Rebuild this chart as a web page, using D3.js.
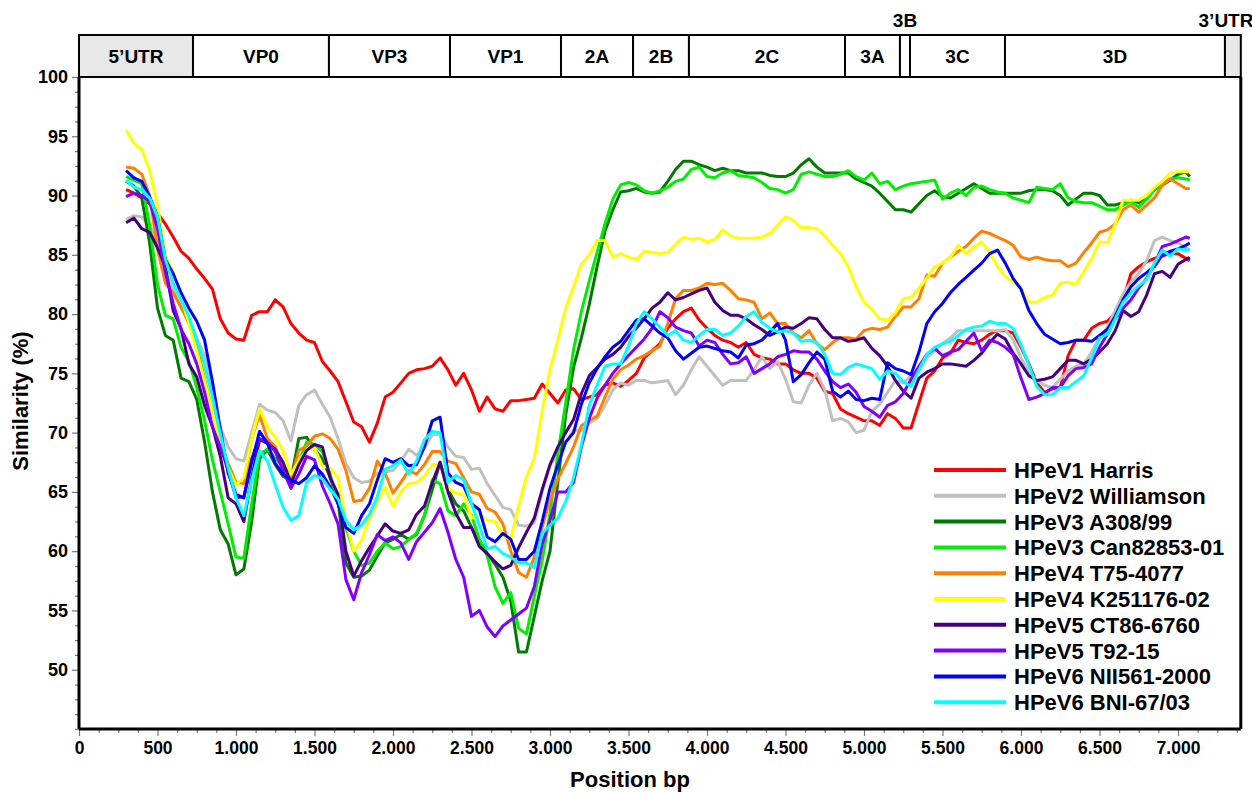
<!DOCTYPE html>
<html>
<head>
<meta charset="utf-8">
<script src="https://cdn.jsdelivr.net/npm/d3@7/dist/d3.min.js"></script>
<style>
body { margin: 0; background: #fff; }
svg text { font-family: "Liberation Sans", Arial, sans-serif; font-weight: bold; }
</style>
</head>
<body>
<svg id="chart" width="1252" height="793"></svg>
<script>
// window positions (bp) of the similarity scan, one row per 500 bp
var positions = [300,350,400,450,500,550,600,650,700,750,
  800,850,900,950,1000,1050,1100,1150,1200,1250,
  1300,1350,1400,1450,1500,1550,1600,1650,1700,1750,
  1800,1850,1900,1950,2000,2050,2100,2150,2200,2250,
  2300,2350,2400,2450,2500,2550,2600,2650,2700,2750,
  2800,2850,2900,2950,3000,3050,3100,3150,3200,3250,
  3300,3350,3400,3450,3500,3550,3600,3650,3700,3750,
  3800,3850,3900,3950,4000,4050,4100,4150,4200,4250,
  4300,4350,4400,4450,4500,4550,4600,4650,4700,4750,
  4800,4850,4900,4950,5000,5050,5100,5150,5200,5250,
  5300,5350,5400,5450,5500,5550,5600,5650,5700,5750,
  5800,5850,5900,5950,6000,6050,6100,6150,6200,6250,
  6300,6350,6400,6450,6500,6550,6600,6650,6700,6750,
  6800,6850,6900,6950,7000,7050,7075]

var seriesNames = ["HPeV1 Harris","HPeV2 Williamson","HPeV3 A308/99","HPeV3 Can82853-01","HPeV4 T75-4077",
  "HPeV4 K251176-02","HPeV5 CT86-6760","HPeV5 T92-15","HPeV6 NII561-2000","HPeV6 BNI-67/03"]
var seriesColors = ["#ff0000","#c0c0c0","#007a00","#00ee00","#ff8000","#ffff00","#46007f","#8000ff","#0000ff","#00ffff"]

var harris = [90.5,90.2,89.8,89.3,88.5,87.6,86.5,85.3,84.7,83.8,
  83.0,82.1,79.6,78.4,77.9,77.8,79.9,80.2,80.2,81.2,
  80.6,79.2,78.4,77.8,77.6,76.0,75.2,74.3,72.6,70.9,
  70.5,69.2,70.8,73.0,73.4,74.2,75.0,75.3,75.4,75.6,
  76.3,75.3,74.0,75.0,73.6,71.8,73.0,72.0,71.8,72.7,
  72.7,72.8,72.9,74.1,73.3,72.5,73.6,73.7,72.8,73.0,
  73.2,74.0,74.2,73.9,74.4,75.0,76.3,76.9,77.5,78.8,
  79.6,80.2,80.5,79.5,78.8,78.2,77.8,77.6,77.2,77.6,
  76.6,76.3,76.2,75.8,75.8,75.3,75.0,75.0,74.6,73.5,
  73.3,72.0,71.6,71.3,71.0,71.0,70.6,71.6,71.2,70.4,
  70.4,72.5,74.6,75.2,76.3,76.7,77.8,77.6,77.5,77.8,
  78.3,78.6,78.6,78.4,77.2,75.8,74.2,73.4,73.7,73.8,
  76.5,77.8,77.8,78.8,79.2,79.4,80.0,81.2,83.4,84.0,
  84.4,84.7,84.9,85.1,85.1,84.7,84.5]
var williamson = [88.0,88.3,88.2,87.5,86.0,83.5,82.0,80.5,79.5,78.0,
  76.5,73.5,70.5,68.8,67.8,67.6,70.0,72.4,71.9,71.7,
  71.0,69.3,72.3,73.2,73.6,72.4,71.3,69.5,67.4,66.2,
  65.8,65.9,66.6,66.7,66.8,67.6,68.6,68.1,68.7,69.8,
  69.9,68.8,68.0,67.9,66.9,67.0,65.7,64.7,63.7,63.5,
  62.2,62.1,62.4,65.0,67.2,68.3,69.2,70.2,70.2,70.8,
  71.2,72.3,73.6,74.2,74.0,74.4,74.4,74.2,74.3,74.4,
  73.2,74.0,75.3,76.4,75.6,74.8,74.0,74.4,74.4,74.4,
  75.3,76.4,75.4,76.0,74.5,72.6,72.5,74.0,75.0,73.6,
  71.0,71.2,70.9,70.0,70.2,71.8,72.4,73.4,74.4,74.2,
  74.8,75.2,76.3,76.9,77.5,78.0,78.6,78.6,78.6,78.6,
  78.6,78.6,78.7,77.8,76.3,75.1,74.4,74.0,73.8,74.5,
  75.2,75.6,75.8,76.8,78.0,78.9,80.3,81.7,82.7,83.4,
  84.5,86.2,86.5,86.2,86.0,85.6,85.4]
var a308 = [91.2,90.8,89.8,86.0,80.5,78.2,77.8,74.6,74.3,72.8,
  69.2,65.0,61.8,60.6,58.0,58.5,62.5,67.8,68.6,67.3,
  66.3,66.0,69.5,69.6,68.6,67.8,66.2,64.2,59.0,57.8,
  57.9,58.4,59.6,60.7,61.0,61.4,61.0,61.4,63.0,65.2,
  67.5,65.2,64.0,63.4,62.0,60.9,59.8,58.9,57.8,55.8,
  51.5,51.5,54.5,57.5,60.0,65.8,71.5,75.5,78.0,80.8,
  84.0,87.0,88.8,90.3,90.4,90.6,90.3,90.2,90.3,91.2,
  92.2,92.9,92.9,92.6,92.4,92.1,92.3,92.1,92.1,91.9,
  91.9,91.9,91.7,91.6,91.6,91.9,92.6,93.1,92.4,91.9,
  91.9,91.9,91.9,91.4,91.1,90.8,90.2,89.5,88.8,88.8,
  88.6,89.3,90.0,90.4,89.9,89.8,90.2,90.6,91.0,90.6,
  90.2,90.2,90.2,90.2,90.2,90.4,90.5,90.5,90.4,90.0,
  89.2,89.7,90.2,90.2,90.0,89.2,89.2,89.4,89.6,89.4,
  89.7,90.5,90.9,91.3,91.8,92.0,91.6]
var can82853 = [91.6,91.3,91.0,87.5,82.5,79.9,79.6,77.2,76.0,73.8,
  71.0,67.7,65.0,62.3,59.5,59.4,64.0,68.2,68.6,67.8,
  67.2,66.5,67.5,69.2,69.0,68.4,66.5,64.0,62.0,60.0,
  58.8,59.0,60.0,60.7,60.2,60.4,61.0,61.5,63.0,66.0,
  65.7,63.4,63.0,64.0,63.0,61.0,59.6,57.0,55.6,56.5,
  53.5,53.0,56.2,59.2,63.2,68.2,72.5,77.0,80.2,82.8,
  85.2,87.6,89.7,90.9,91.1,90.9,90.4,90.2,90.4,90.7,
  91.2,91.4,92.2,92.4,91.6,91.5,91.9,92.1,91.7,91.6,
  91.5,91.1,90.6,90.5,90.2,90.5,91.8,92.0,91.8,91.6,
  91.6,91.8,92.1,91.6,91.3,91.9,91.0,91.2,90.5,90.8,
  91.0,91.1,91.2,91.3,89.7,90.2,90.5,90.0,90.7,90.8,
  90.5,90.3,90.2,89.8,89.6,89.4,90.7,90.6,90.5,91.0,
  89.8,89.5,89.4,89.4,89.1,88.8,88.8,89.2,89.5,89.0,
  89.7,90.5,91.0,91.4,91.5,91.4,91.3]
var t75 = [92.4,92.3,91.8,90.0,85.5,82.6,81.8,80.6,79.2,77.5,
  74.5,71.8,69.3,67.4,65.8,65.7,69.5,71.5,69.5,68.8,
  67.0,66.0,68.5,68.9,69.7,69.9,69.5,68.6,66.8,64.2,
  64.3,65.3,67.6,66.6,64.9,65.8,66.8,66.5,67.3,68.4,
  68.4,67.6,67.4,66.2,65.0,64.8,63.6,63.3,62.3,60.0,
  58.2,57.8,59.5,62.0,64.3,66.1,67.4,68.8,70.6,71.0,
  71.4,73.0,74.5,75.3,75.7,76.2,76.5,76.9,77.3,79.2,
  81.3,82.0,82.0,82.2,82.6,82.5,82.6,82.0,81.3,81.2,
  81.0,79.6,80.1,79.2,79.2,78.4,78.0,78.6,77.5,77.0,
  77.6,78.0,78.0,77.9,78.6,78.8,78.7,78.9,79.8,80.6,
  80.6,81.3,83.3,83.2,84.3,84.8,85.3,85.7,86.4,87.0,
  86.8,86.5,86.2,85.8,84.8,84.6,84.8,84.6,84.5,84.5,
  84.0,84.3,85.2,86.0,86.9,87.1,87.6,88.8,89.2,88.6,
  89.2,89.8,90.9,91.4,91.0,90.6,90.6]
var k251176 = [95.5,94.4,93.9,92.1,89.2,84.9,83.6,81.5,79.2,76.9,
  74.3,71.8,69.0,67.0,65.6,66.2,69.5,72.0,70.5,69.6,
  68.5,66.5,67.6,68.5,68.7,67.2,67.0,66.2,62.5,60.0,
  60.9,62.8,64.2,65.4,63.8,65.0,65.7,65.8,66.3,67.3,
  67.3,65.3,64.9,64.8,62.8,63.0,62.6,62.5,61.3,61.0,
  63.8,66.3,67.8,71.8,75.3,77.8,80.5,82.3,84.2,85.0,
  86.2,86.2,84.8,85.1,84.8,84.6,85.3,85.2,85.1,85.2,
  85.9,86.5,86.3,86.4,86.1,86.3,87.1,86.6,86.4,86.4,
  86.4,86.5,86.8,87.5,88.2,87.9,87.3,87.3,87.2,86.6,
  85.8,85.1,84.0,82.3,81.0,80.4,79.6,79.5,80.1,81.3,
  81.4,82.2,83.0,84.0,84.3,84.8,85.8,85.1,85.6,86.1,
  85.2,84.0,83.2,82.7,82.2,81.0,81.0,81.4,81.6,82.6,
  82.7,82.5,83.6,84.7,86.1,86.0,87.6,89.6,89.6,89.6,
  90.0,90.7,91.2,91.9,92.0,92.0,92.0]
var ct86 = [87.7,88.1,87.2,86.9,85.6,84.0,80.3,78.8,75.8,74.7,
  72.3,70.5,68.0,64.5,64.0,62.5,66.2,69.4,69.1,68.6,
  67.5,65.7,67.3,68.5,69.0,68.8,66.2,64.8,60.0,57.9,
  59.2,60.3,61.3,62.3,61.7,61.5,61.8,63.1,63.8,65.8,
  67.5,65.0,63.2,62.0,62.0,60.4,59.8,59.1,58.5,58.8,
  60.3,61.6,62.8,65.2,67.3,68.8,70.0,71.1,73.3,74.8,
  75.5,76.2,76.6,77.2,78.1,78.8,79.6,80.5,81.0,81.8,
  81.2,81.4,81.7,82.0,82.2,81.0,80.3,79.9,79.9,79.6,
  79.1,78.7,78.2,78.5,78.9,78.8,79.2,79.7,79.6,78.7,
  78.0,78.0,77.7,77.8,78.0,77.1,76.5,75.6,74.4,73.5,
  72.9,74.6,75.1,75.4,75.8,75.8,75.7,75.6,76.1,76.7,
  77.6,78.3,77.9,76.7,75.8,74.8,74.4,74.5,74.7,75.4,
  76.1,76.1,75.8,76.2,76.8,77.5,78.6,80.3,79.8,80.2,
  81.6,83.4,83.6,83.1,84.2,84.6,84.8]
var t92 = [89.9,90.2,90.0,89.5,87.2,83.5,80.9,78.7,77.5,75.8,
  73.4,70.5,68.8,66.8,64.5,64.6,67.8,69.5,69.2,68.4,
  66.8,65.3,66.5,68.0,67.7,65.5,64.0,62.3,57.6,55.9,
  58.2,59.7,61.4,60.9,61.2,60.7,59.3,60.8,61.6,62.4,
  63.6,61.6,59.3,57.8,54.5,55.0,53.6,52.8,53.7,54.2,
  54.7,55.2,57.0,60.6,62.6,65.0,65.0,65.8,68.8,71.2,
  72.9,74.0,75.0,75.8,76.5,77.2,77.9,78.8,80.2,79.7,
  78.9,78.6,78.4,77.3,77.8,77.6,76.6,75.8,75.9,76.4,
  75.0,75.4,75.8,76.4,76.6,76.9,76.8,76.8,76.2,75.2,
  74.3,73.8,74.1,73.4,72.2,71.8,71.3,72.3,72.6,73.3,
  74.5,75.6,76.6,77.1,76.5,76.8,77.0,77.7,78.4,76.9,
  77.8,77.6,77.2,76.6,74.6,72.8,73.0,73.3,73.8,73.8,
  74.8,75.4,75.5,75.8,77.2,78.3,79.6,80.5,81.2,82.2,
  83.0,84.2,85.7,85.9,86.2,86.5,86.4]
var nii561 = [92.1,91.5,91.2,89.9,88.2,84.6,83.4,81.8,80.5,79.4,
  77.8,74.3,70.3,66.6,64.8,64.5,67.5,70.1,69.1,67.4,
  66.5,66.0,65.7,66.2,67.2,66.5,65.4,64.0,62.0,61.5,
  63.0,64.0,66.0,67.8,67.5,67.8,67.2,67.3,68.8,71.0,
  71.3,66.6,65.8,65.5,64.0,63.5,61.2,60.8,61.5,61.0,
  59.3,59.3,60.0,62.5,65.3,67.3,69.2,70.0,72.4,74.2,
  75.4,76.4,77.2,77.7,78.6,79.5,79.6,79.0,78.4,78.0,
  76.9,76.2,76.7,77.2,77.3,77.1,76.9,76.8,76.3,77.4,
  77.5,77.8,78.5,79.2,77.8,74.3,74.9,75.9,76.8,76.2,
  73.5,73.0,73.5,72.8,72.7,72.9,72.8,75.9,75.4,75.2,
  74.9,76.8,79.2,80.2,80.9,81.8,82.5,83.1,83.7,84.3,
  85.1,85.4,84.3,83.0,82.1,80.3,79.2,78.3,77.9,77.5,
  77.6,77.8,77.8,77.7,78.2,78.7,79.8,81.2,82.3,83.0,
  83.5,84.0,85.0,85.3,85.5,85.8,86.0]
var bni67 = [91.3,90.7,90.5,89.8,88.2,84.6,82.6,81.2,79.8,77.8,
  75.7,73.0,69.9,67.0,64.5,63.0,66.0,68.5,67.6,65.6,
  63.7,62.6,63.0,65.8,66.4,66.1,65.2,64.4,62.6,61.8,
  62.2,63.1,64.6,66.9,67.2,67.7,66.5,67.6,69.4,70.1,
  70.0,65.8,66.4,66.0,64.0,62.2,60.2,60.4,59.8,59.5,
  59.0,59.0,58.6,61.5,62.2,62.8,64.2,66.2,69.0,72.3,
  74.0,75.6,75.8,75.8,77.3,79.2,80.2,79.6,78.9,78.2,
  78.6,77.8,77.6,78.2,78.7,78.7,78.2,78.4,79.0,79.8,
  80.2,79.3,78.8,78.5,78.6,78.4,77.7,77.8,77.6,76.6,
  75.0,74.9,75.5,75.8,75.6,75.4,74.5,75.2,75.0,74.3,
  73.9,75.3,76.6,77.2,77.5,77.7,78.2,78.7,78.9,79.0,
  79.4,79.2,79.2,78.8,77.4,75.7,73.9,73.2,73.2,73.8,
  73.8,74.3,74.8,76.3,78.0,78.3,79.6,81.0,81.8,82.4,
  82.9,84.3,85.4,84.9,85.5,85.4,85.4]

var seriesValues = [harris, williamson, a308, can82853, t75, k251176, ct86, t92, nii561, bni67]

// genome map (bp boundaries)
var regionNames = ["5’UTR","VP0","VP3","VP1","2A","2B","2C","3A","3B","3C","3D","3’UTR"]
var regionStarts = [0,726,1592,2363,3070,3529,3885,4879,5229,5293,5898,7299]
var regionEnds = [726,1592,2363,3070,3529,3885,4879,5229,5293,5898,7299,7400]

var yMajor = [50,55,60,65,70,75,80,85,90,95,100]
var xMajor = [0,500,1000,1500,2000,2500,3000,3500,4000,4500,5000,5500,6000,6500,7000]

var width = 1252, height = 793
var margin = {top:77, left:79, bottom:64, right:11.2}

var svg = d3.select("#chart")

var x = d3.scaleLinear().domain([0, 7400]).range([margin.left, width - margin.right])
var y = d3.scaleLinear().domain([45, 100]).range([height - margin.bottom, margin.top])

var loc = d3.formatLocale({decimal: ",", thousands: ".", grouping: [3], currency: ["", ""]})
var fmt = loc.format(",")

// minor ticks
var yMinor = d3.range(45, 100.01, 1.25).filter(function(v){ return yMajor.indexOf(v) < 0 })
var xMinor = d3.range(0, 7400, 125).filter(function(v){ return xMajor.indexOf(v) < 0 })

svg.append("g")
  .attr("transform", "translate(" + margin.left + ",0)")
  .call(d3.axisLeft(y).tickValues(yMinor).tickSize(4).tickFormat(""))
var yAxis = svg.append("g")
  .attr("transform", "translate(" + margin.left + ",0)")
  .call(d3.axisLeft(y).tickValues(yMajor).tickSize(7).tickPadding(4).tickFormat(d3.format("d")))
svg.append("g")
  .attr("transform", "translate(0," + y(45) + ")")
  .call(d3.axisBottom(x).tickValues(xMinor).tickSize(4).tickFormat(""))
var xAxis = svg.append("g")
  .attr("transform", "translate(0," + y(45) + ")")
  .call(d3.axisBottom(x).tickValues(xMajor).tickSize(7).tickPadding(6).tickFormat(fmt))

svg.selectAll(".domain").remove()
svg.selectAll(".tick line").attr("stroke", "#777").attr("stroke-width", 1.2)
yAxis.selectAll("text").attr("font-size", 18).attr("fill", "#000")
xAxis.selectAll("text").attr("font-size", 17.5).attr("fill", "#000")

// similarity lines
var line = d3.line()
  .x(function(d, i){ return x(positions[i]) })
  .y(function(d){ return y(d) })

svg.append("g")
  .attr("class", "lines")
  .selectAll("path")
  .data(seriesValues)
  .enter().append("path")
  .attr("d", line)
  .attr("fill", "none")
  .attr("stroke", function(d, i){ return seriesColors[i] })
  .attr("stroke-width", 3)
  .attr("stroke-linejoin", "round")

// frame
var frame = svg.append("g")
frame.append("line").attr("x1", x(0)).attr("x2", x(0)).attr("y1", y(100)).attr("y2", y(45))
frame.append("line").attr("x1", x(0)).attr("x2", x(7400)).attr("y1", y(45)).attr("y2", y(45))
frame.append("line").attr("x1", x(7400)).attr("x2", x(7400)).attr("y1", y(100)).attr("y2", y(45))
frame.selectAll("line").attr("stroke", "#000").attr("stroke-width", 3)

// genome bar
var barTop = 35
var bar = svg.append("g")
bar.selectAll("rect")
  .data(regionNames)
  .enter().append("rect")
  .attr("x", function(d, i){ return x(regionStarts[i]) })
  .attr("y", barTop)
  .attr("width", function(d, i){ return x(regionEnds[i]) - x(regionStarts[i]) })
  .attr("height", y(100) - barTop)
  .attr("fill", function(d){ return d.indexOf("UTR") >= 0 ? "#e8e8e8" : "#fff" })
  .attr("stroke", "#000")
  .attr("stroke-width", 2)

bar.selectAll("text")
  .data(regionNames)
  .enter().append("text")
  .attr("x", function(d, i){
    var cx = (x(regionStarts[i]) + x(regionEnds[i])) / 2
    if (d == "3’UTR") cx = 1226
    return cx
  })
  .attr("y", function(d){ return (d == "3B" || d == "3’UTR") ? 27 : 63 })
  .attr("text-anchor", "middle")
  .attr("font-size", 19)
  .style("font-family", '"Liberation Sans Narrow", "Liberation Sans", Arial, sans-serif')
  .text(function(d){ return d })

// axis titles
svg.append("text")
  .attr("transform", "translate(28,401) rotate(-90)")
  .attr("text-anchor", "middle")
  .attr("font-size", 22)
  .text("Similarity (%)")

svg.append("text")
  .attr("x", 630)
  .attr("y", 787)
  .attr("text-anchor", "middle")
  .attr("font-size", 22)
  .text("Position bp")

// legend
var legend = svg.append("g")
  .attr("class", "legend")
  .selectAll("g")
  .data(seriesNames)
  .enter().append("g")
  .attr("transform", function(d, i){ return "translate(934," + (470 + i * 25.8) + ")" })

legend.append("line")
  .attr("x1", 0).attr("x2", 72)
  .attr("stroke", function(d, i){ return seriesColors[i] })
  .attr("stroke-width", 4)

legend.append("text")
  .attr("x", 80)
  .attr("y", 8)
  .attr("font-size", 22)
  .text(function(d){ return d })
</script>
</body>
</html>
